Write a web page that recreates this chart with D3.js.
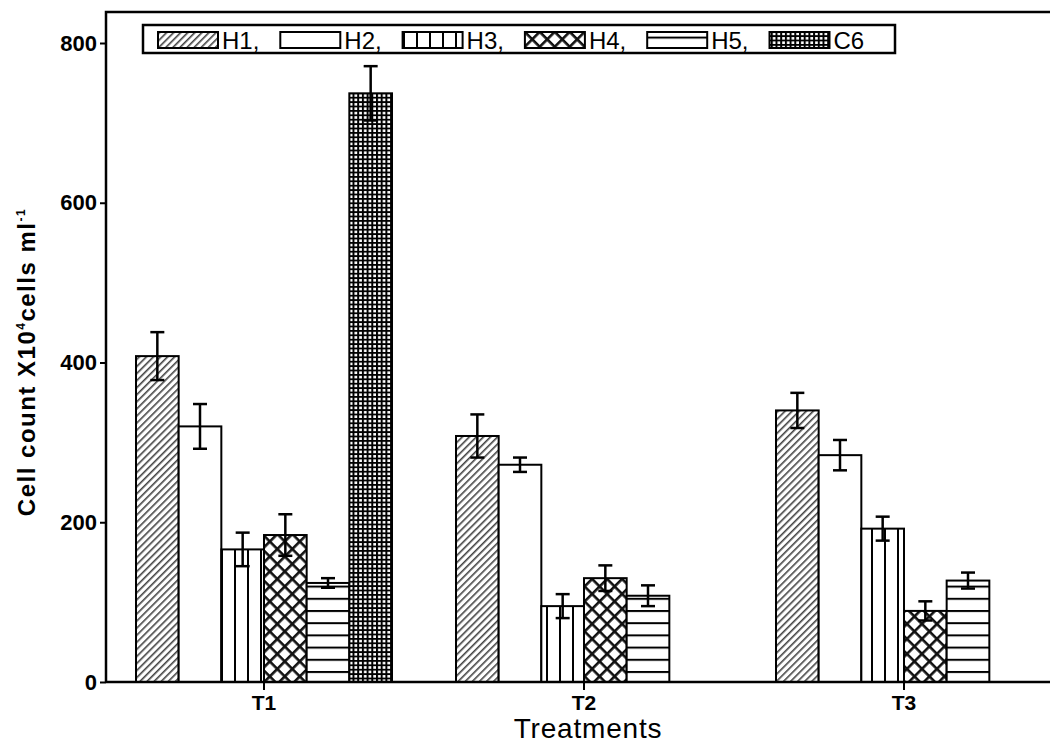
<!DOCTYPE html>
<html>
<meta charset="utf-8">
<style>
    body { margin: 0; background: #fff; }
    text { font-family: 'Liberation Sans', Arial, sans-serif; fill: #000; }
</style>
<body>
<svg id="chart" width="1050" height="744"></svg>
<script src="https://d3js.org/d3.v7.min.js"></script>
<script>
// data
const treatments = ["T1", "T2", "T3"];
const seriesNames = ["H1", "H2", "H3", "H4", "H5", "C6"];
const legendLabels = ["H1,", "H2,", "H3,", "H4,", "H5,", "C6"];
const h1Values = [408, 308, 340];
const h2Values = [320, 272, 284];
const h3Values = [166, 95, 192];
const h4Values = [184, 130, 89];
const h5Values = [124, 108, 127];
const c6Values = [737, null, null];
const h1Err = [30, 27, 22];
const h2Err = [28, 9, 19];
const h3Err = [21, 15, 15];
const h4Err = [26, 16, 12];
const h5Err = [6, 13, 10];
const c6Err = [34, null, null];
const yTicks = [0, 200, 400, 600, 800];

const values = [h1Values, h2Values, h3Values, h4Values, h5Values, c6Values];
const errors = [h1Err, h2Err, h3Err, h4Err, h5Err, c6Err];

const chart = d3.select("#chart");
const plotLeft = 106, plotTop = 12, plotBottom = 682, plotRight = 1050;

const x0 = d3.scaleBand().domain(treatments).range([104, 1064])
    .paddingInner(0.2).paddingOuter(0.1);
const x1 = d3.scaleBand().domain(seriesNames).range([0, x0.bandwidth()]);
const y = d3.scaleLinear().domain([0, 800]).range([plotBottom, 43]);

// fill patterns
const defs = chart.append("defs");
const patternIds = {};
function pattern(id, w, h, rot, draw) {
    const p = defs.append("pattern").attr("id", id)
        .attr("patternUnits", "userSpaceOnUse")
        .attr("width", w).attr("height", h);
    if (rot) p.attr("patternTransform", "rotate(" + rot + ")");
    p.append("rect").attr("width", w).attr("height", h).attr("fill", "#fff");
    draw(p);
    return "url(#" + id + ")";
}
patternIds.H1 = pattern("pH1", 5, 5, 45, p => p.append("rect")
    .attr("x", 0).attr("y", 0).attr("width", 1.6).attr("height", 5).attr("fill", "#444"));
patternIds.H2 = "#fff";
patternIds.H3 = pattern("pH3", 13, 10, 0, p => p.append("rect")
    .attr("x", 0).attr("y", 0).attr("width", 2).attr("height", 10).attr("fill", "#000"));
patternIds.H4 = pattern("pH4", 10.6, 10.6, 45, p => {
    p.append("rect").attr("width", 2.6).attr("height", 10.6).attr("fill", "#111");
    p.append("rect").attr("width", 10.6).attr("height", 2.6).attr("fill", "#111");
});
patternIds.H5 = pattern("pH5", 10, 12.2, 0, p => p.append("rect")
    .attr("x", 0).attr("y", 0).attr("width", 10).attr("height", 2).attr("fill", "#000"));
patternIds.C6 = pattern("pC6", 4.7, 4.4, 0, p => {
    p.append("rect").attr("width", 2).attr("height", 4.4).attr("fill", "#000");
    p.append("rect").attr("width", 4.7).attr("height", 1.8).attr("fill", "#000");
});

// bars
const barData = [];
treatments.forEach((t, ti) => {
    seriesNames.forEach((s, si) => {
        if (values[si][ti] != null) {
            barData.push({ t: t, s: s, v: values[si][ti], e: errors[si][ti] });
        }
    });
});

chart.append("g").selectAll("rect")
    .data(barData)
    .enter()
    .append("rect")
    .attr("x", d => x0(d.t) + x1(d.s))
    .attr("y", d => y(d.v))
    .attr("width", x1.bandwidth())
    .attr("height", d => y(0) - y(d.v))
    .attr("fill", d => patternIds[d.s])
    .attr("stroke", "#000")
    .attr("stroke-width", 2);

// error bars
const errG = chart.append("g").attr("stroke", "#000").attr("stroke-width", 2.5);
barData.forEach(d => {
    const cx = x0(d.t) + x1(d.s) + x1.bandwidth() / 2;
    errG.append("line").attr("x1", cx).attr("x2", cx)
        .attr("y1", y(d.v + d.e)).attr("y2", y(d.v - d.e));
    [d.v + d.e, d.v - d.e].forEach(v => {
        errG.append("line").attr("x1", cx - 7).attr("x2", cx + 7)
            .attr("y1", y(v)).attr("y2", y(v));
    });
});

// axes
const yAxis = chart.append("g")
    .attr("transform", "translate(" + plotLeft + ",0)")
    .call(d3.axisLeft(y).tickValues(yTicks).tickSize(6).tickSizeOuter(0).tickPadding(3));
yAxis.select(".domain").remove();
yAxis.selectAll("line").attr("stroke-width", 2);
yAxis.selectAll("text").attr("font-size", 22).attr("font-weight", "bold")
    .attr("font-family", "'Liberation Sans', Arial, sans-serif").attr("fill", "#111");

const xAxis = chart.append("g")
    .attr("transform", "translate(0," + plotBottom + ")")
    .call(d3.axisBottom(x0).tickSize(8).tickSizeOuter(0).tickPadding(5));
xAxis.select(".domain").remove();
xAxis.selectAll("line").attr("stroke-width", 2);
xAxis.selectAll("text").attr("font-size", 21).attr("font-weight", "bold")
    .attr("font-family", "'Liberation Sans', Arial, sans-serif").attr("fill", "#111");

// frame
chart.append("path")
    .attr("d", "M" + plotLeft + "," + plotBottom + "V" + plotTop + "H" + plotRight
        + "M" + plotLeft + "," + plotBottom + "H" + plotRight)
    .attr("fill", "none").attr("stroke", "#000").attr("stroke-width", 2.5);

// legend
const legend = chart.append("g");
legend.append("rect").attr("x", 143).attr("y", 25).attr("width", 752).attr("height", 28)
    .attr("fill", "#fff").attr("stroke", "#000").attr("stroke-width", 2.5);
seriesNames.forEach((s, i) => {
    const lx = 158 + i * 122.3;
    legend.append("rect").attr("x", lx).attr("y", 32).attr("width", 60).attr("height", 16)
        .attr("fill", patternIds[s]).attr("stroke", "#000").attr("stroke-width", 2);
    legend.append("text").attr("x", lx + 64).attr("y", 49)
        .attr("font-size", 24).text(legendLabels[i]);
});

// axis titles
const yLabel = chart.append("text")
    .attr("transform", "translate(35,362)rotate(-90)")
    .attr("text-anchor", "middle")
    .attr("font-size", 24)
    .attr("letter-spacing", 1.5)
    .attr("font-weight", "bold");
yLabel.append("tspan").text("Cell count X10");
yLabel.append("tspan").attr("font-size", 12).attr("dy", -10).text("4");
yLabel.append("tspan").attr("dy", 10).text("cells ml");
yLabel.append("tspan").attr("font-size", 12).attr("dy", -10).text("-1");

chart.append("text")
    .attr("x", 588).attr("y", 738)
    .attr("text-anchor", "middle")
    .attr("font-size", 28)
    .attr("letter-spacing", 0.8)
    .text("Treatments");
</script>
</body>
</html>
